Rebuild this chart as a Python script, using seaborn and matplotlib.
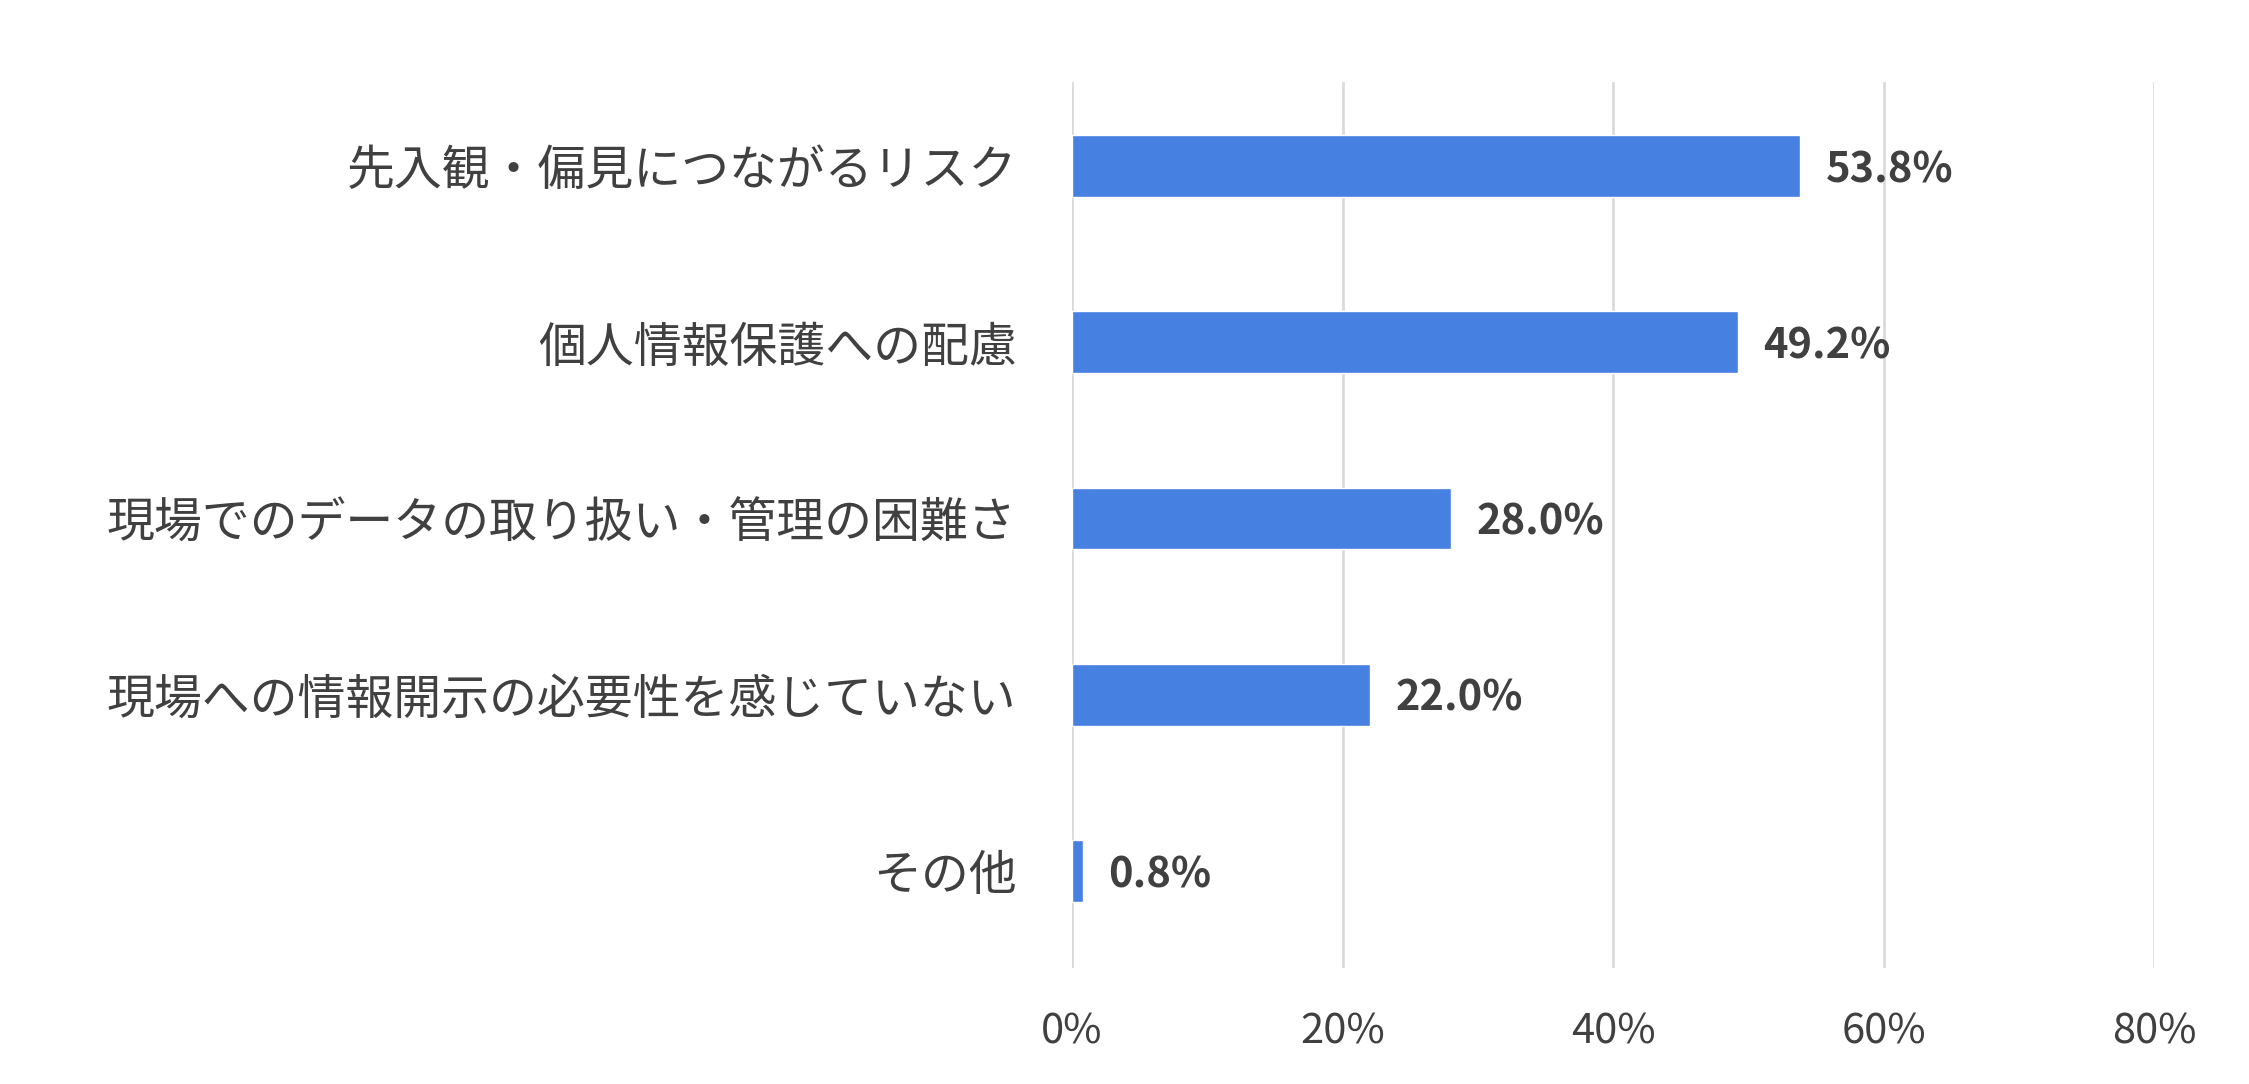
import matplotlib
matplotlib.use("Agg")
import matplotlib.pyplot as plt
import seaborn as sns
import pandas as pd

categories = [
    "先入観・偏見につながるリスク",
    "個人情報保護への配慮",
    "現場でのデータの取り扱い・管理の困難さ",
    "現場への情報開示の必要性を感じていない",
    "その他",
]
values = [53.8, 49.2, 28.0, 22.0, 0.8]
x_ticks = [0, 20, 40, 60, 80]
x_tick_labels = ["0%", "20%", "40%", "60%", "80%"]

bar_color = "#4680E0"
text_color = "#404040"

sns.set_theme(style="white")
plt.rcParams["font.family"] = ["Noto Sans CJK JP", "DejaVu Sans"]

df = pd.DataFrame({"category": categories, "value": values})

fig = plt.figure(figsize=(22.49, 10.84), dpi=100)
ax = fig.add_axes([0.4767, 0.107, 0.9578 - 0.4767, 0.9244 - 0.107])

sns.barplot(data=df, x="value", y="category", orient="h", color=bar_color,
            width=0.35, saturation=1, ax=ax)

ax.set_xlim(0, 80)
ax.set_ylim(4.55, -0.477)
ax.set_xticks(x_ticks)
ax.set_xticklabels(x_tick_labels)
ax.set_xlabel("")
ax.set_ylabel("")

ax.grid(axis="x", color="#d9d9d9", linewidth=1.9)
ax.set_axisbelow(True)
for s in ax.spines.values():
    s.set_visible(False)

ax.tick_params(axis="y", length=0, pad=40, labelsize=34.5, labelcolor=text_color)
ax.tick_params(axis="x", length=0, pad=31, labelsize=30, labelcolor=text_color)

labels = ax.bar_label(ax.containers[0], labels=[f"{v:.1f}%" for v in values],
                      padding=18.5, fontsize=30, fontweight="bold", color=text_color)
# nudge the value labels down a little, like the original
for t in labels:
    t.set_y(-3)

fig.savefig("out.png", dpi=100)
